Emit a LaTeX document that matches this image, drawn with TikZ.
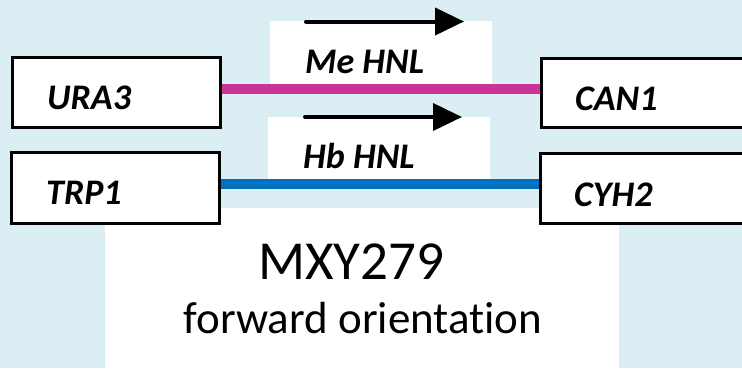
\documentclass[tikz,border=0pt]{standalone}
\usepackage{fontspec}
\setmainfont{Carlito}[Ligatures=NoCommon]
\usetikzlibrary{arrows.meta}
\definecolor{bgblue}{HTML}{DAEEF3}
\definecolor{mepink}{HTML}{CC3399}
\definecolor{hbblue}{HTML}{0070C0}
\tikzset{
  genebox/.style={draw=black, line width=3pt, fill=white, anchor=north west, inner sep=0pt},
  genetext/.style={anchor=base west, inner sep=0pt, font=\fontsize{36}{40}\selectfont\bfseries\itshape},
  hnltext/.style={anchor=base west, inner sep=0pt, font=\fontsize{36}{40}\selectfont\bfseries\itshape},
  linker/.style={line width=10pt},
  dirarrow/.style={line width=4pt, line cap=round, -{Triangle[length=29pt,width=27pt]}}
}
\begin{document}
\begin{tikzpicture}[x=1pt,y=-1pt]
\fill[bgblue] (0,0) rectangle (742,368);
\useasboundingbox (0,0) rectangle (742,368);
% white panels
\fill[white] (270,21) rectangle (492,87);
\fill[white] (268,117) rectangle (490,182);
\fill[white] (105,208) rectangle (619,368);
% gene boxes
\node[genebox, minimum width=208pt, minimum height=70pt] (ura) at (10.5,55.5) {};
\node[genebox, minimum width=208pt, minimum height=71pt] (trp) at (9.5,150.5) {};
\node[genebox, minimum width=240pt, minimum height=69pt] (can) at (539.5,56.5) {};
\node[genebox, minimum width=240pt, minimum height=70pt] (cyh) at (538.5,151.5) {};
% linkers
\coordinate (p1) at ([yshift=3.5pt]ura.east);
\coordinate (p2) at ([yshift=4pt]trp.east);
\draw[linker, mepink] (p1) -- (p1 -| can.west);
\draw[linker, hbblue] (p2) -- (p2 -| cyh.west);
% arrows
\coordinate (a1s) at (306,21.5);
\coordinate (a1e) at (464,21.5);
\coordinate (a2s) at (305,117);
\coordinate (a2e) at (462,117);
\draw[dirarrow] (a1s) -- (a1e);
\draw[dirarrow] (a2s) -- (a2e);
% texts
\node[genetext] (turA) at (47,109) {URA3};
\node[genetext] (ttrp) at (46,204) {TRP1};
\node[genetext] (tcan) at (575,110) {CAN1};
\node[genetext] (tcyh) at (574,206) {CYH2};
\node[hnltext] (tme) at (305,73) {Me HNL};
\node[hnltext] (thb) at (303,168) {Hb HNL};
\node[anchor=base, inner sep=0pt, font=\fontsize{55}{60}\selectfont] (tmxy) at (351,279) {MXY279};
\node[anchor=base, inner sep=0pt, font=\fontsize{45}{50}\selectfont] (tfwd) at (363,333) {forward orientation};
\end{tikzpicture}
\end{document}
